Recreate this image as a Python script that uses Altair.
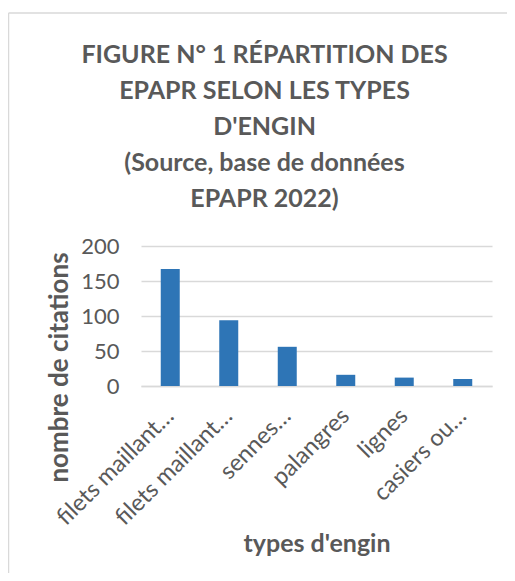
import altair as alt
import pandas as pd

categories = ["filets maillants 1", "filets maillants 2", "sennes", "palangres", "lignes", "casiers ou nasses"]
labels = ["filets maillant…", "filets maillant…", "sennes…", "palangres", "lignes", "casiers ou…"]
values = [167, 94, 56, 16, 12, 10]
title_lines = ["FIGURE N° 1 RÉPARTITION DES", "EPAPR SELON LES TYPES", "D'ENGIN",
               "(Source, base de données", "EPAPR 2022)"]

df = pd.DataFrame({"cat": categories, "val": values})

expr = "''"
for c, l in zip(reversed(categories), reversed(labels)):
    expr = f"datum.value == '{c}' ? '{l}' : ({expr})"

FONT = "Lato"
GREY = "#595959"
FRAME = "#D9D9D9"

bars = alt.Chart(df).mark_bar(color="#2E75B6", size=19).encode(
    x=alt.X("cat:N", sort=categories,
            scale=alt.Scale(paddingInner=0.0, paddingOuter=0.0),
            axis=alt.Axis(title="types d'engin", labelExpr=expr, labelAngle=-45,
                          labelAlign="right", labelBaseline="middle", labelPadding=26,
                          labelFontSize=23.5, labelFont=FONT, labelColor=GREY,
                          ticks=False, grid=False, domainColor=FRAME, domainWidth=1.3,
                          titleFontSize=25, titleFont=FONT, titleFontWeight="bold",
                          titleColor=GREY, titleY=157, titleBaseline="middle",
                          labelLimit=300)),
    y=alt.Y("val:Q", scale=alt.Scale(domain=[0, 200]),
            axis=alt.Axis(title="nombre de citations", values=[0, 50, 100, 150, 200],
                          labelFontSize=22, labelFont=FONT, labelColor=GREY,
                          labelPadding=22, ticks=False, domain=False,
                          gridColor=FRAME, gridWidth=1.3,
                          titleFontSize=26, titleFont=FONT, titleFontWeight="bold",
                          titleColor=GREY, titleX=-82, titleY=121,
                          titleAlign="center", titleBaseline="middle")),
)

frame_df = pd.DataFrame({"k": [0]})
left_line = alt.Chart(frame_df).mark_rule(color=FRAME, strokeWidth=1.5).encode(
    x=alt.value(-132.5), y=alt.value(-233), y2=alt.value(327))
top_line = alt.Chart(frame_df).mark_rule(color=FRAME, strokeWidth=1.5).encode(
    x=alt.value(-132.5), x2=alt.value(366), y=alt.value(-233))

chart = alt.layer(left_line, top_line, bars).properties(
    width=351, height=140,
    background="white",
    title=alt.TitleParams(text=title_lines, font=FONT, fontSize=25, fontWeight="bold",
                          color=GREY, anchor="middle", frame="group", dx=-52,
                          lineHeight=36, offset=36, dy=236),
    autosize=alt.AutoSizeParams(type="none"),
    padding={"left": 133, "top": 238, "right": 15, "bottom": 187},
).configure_view(stroke="transparent", strokeWidth=0)

chart.save("out.html", embed_options={"renderer": "svg", "actions": False})
